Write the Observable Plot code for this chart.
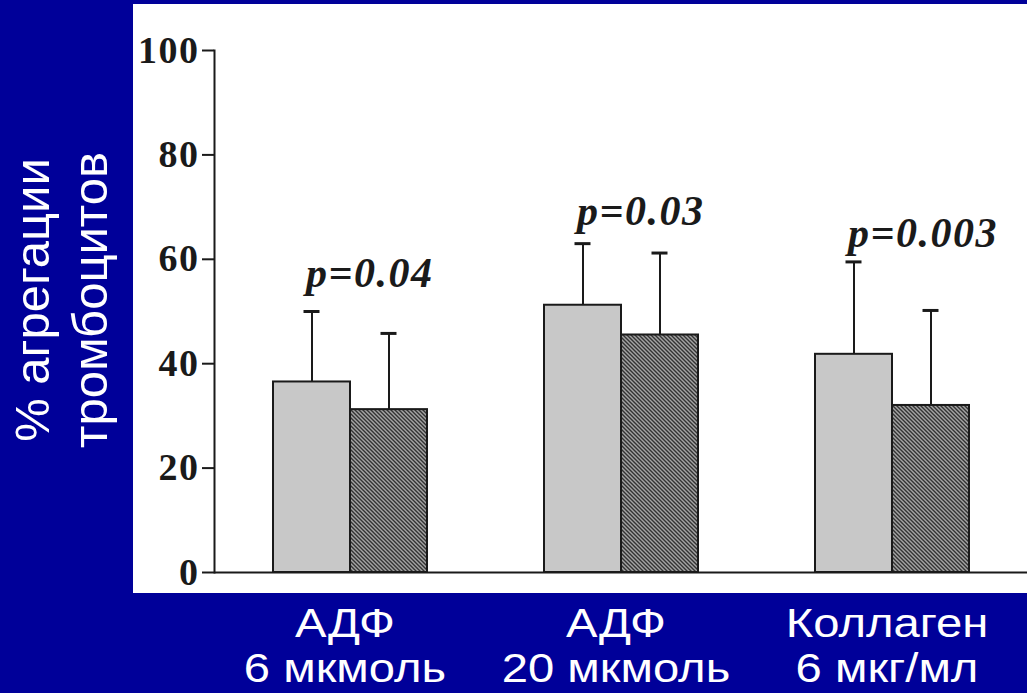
<!DOCTYPE html>
<html><head><meta charset="utf-8">
<script src="https://cdn.jsdelivr.net/npm/d3@7"></script>
<script src="https://cdn.jsdelivr.net/npm/@observablehq/plot@0.6"></script>
<style>
html,body{margin:0;padding:0;background:#000099;width:1027px;height:693px;overflow:hidden;}
#panel{position:absolute;left:133px;top:4px;width:894px;height:589px;background:#fff;}
.xl{position:absolute;top:601px;width:300px;margin-left:-150px;text-align:center;color:#fff;font-family:"Liberation Sans",Arial,sans-serif;font-size:40px;line-height:45px;transform:scaleX(1.18);}
#ytitle{position:absolute;left:-167px;top:240px;width:460px;height:120px;transform:rotate(-90deg);text-align:center;color:#fff;font-family:"Liberation Sans",Arial,sans-serif;font-size:49px;line-height:58px;}
</style></head><body>
<svg width="0" height="0" style="position:absolute"><defs>
<pattern id="hatch" patternUnits="userSpaceOnUse" width="4" height="4">
<rect width="4" height="4" fill="#a4a4a4"/>
<path d="M0,0 L4,4 M-1,3 L1,5 M3,-1 L5,1" stroke="#333" stroke-width="1.4"/>
</pattern></defs></svg>
<div id="panel"></div>
<div id="xlabels"></div>
<div id="ytitle">% агрегации<br>тромбоцитов</div>
<script>
const groupTop = ["АДФ", "АДФ", "Коллаген"];
const groupBottom = ["6 мкмоль", "20 мкмоль", "6 мкг/мл"];
const seriesKeys = ["s1", "s2"];
const mean1 = [36.5, 51.2, 41.8];
const errTop1 = [50.0, 63.0, 59.5];
const mean2 = [31.2, 45.5, 32.0];
const errTop2 = [45.8, 61.2, 50.2];
const pLabels = ["p=0.04", "p=0.03", "p=0.003"];
const pY = [54.6, 66.5, 62.3];
const yTicks = [0, 20, 40, 60, 80, 100];

const groupKeys = groupTop.map((t, i) => t + " " + groupBottom[i]);
const rows = [];
groupKeys.forEach((g, i) => {
  rows.push({group: g, series: seriesKeys[0], mean: mean1[i], top: errTop1[i]});
  rows.push({group: g, series: seriesKeys[1], mean: mean2[i], top: errTop2[i]});
});
const pRows = groupKeys.map((g, i) => ({group: g, series: seriesKeys[0], label: pLabels[i], y: pY[i]}));

const ink = "#1a1a1a";
const chart = Plot.plot({
  width: 894, height: 589,
  marginLeft: 81, marginRight: 0, marginTop: 46, marginBottom: 21,
  style: {background: "#fff", overflow: "visible", letterSpacing: "1.5px"},
  fx: {domain: groupKeys, padding: 0, axis: null},
  x: {domain: seriesKeys, paddingInner: 0, paddingOuter: 0.74, axis: null},
  y: {domain: [0, 100], axis: null},
  marks: [
    Plot.ruleX(rows, {fx: "group", x: "series", y1: "mean", y2: "top", stroke: ink, strokeWidth: 2}),
    Plot.tickY(rows, {fx: "group", x: "series", y: "top", stroke: ink, strokeWidth: 3, insetLeft: 30.5, insetRight: 30.5}),
    Plot.barY(rows.filter(d => d.series === seriesKeys[0]), {fx: "group", x: "series", y: "mean", fill: "#c8c8c8", stroke: ink, strokeWidth: 2}),
    Plot.barY(rows.filter(d => d.series === seriesKeys[1]), {fx: "group", x: "series", y: "mean", fill: "url(#hatch)", stroke: ink, strokeWidth: 2}),
    Plot.ruleY([0], {stroke: ink, strokeWidth: 2}),
    Plot.frame({anchor: "left", facetAnchor: "left", stroke: ink, strokeWidth: 2}),
    Plot.axisY({ticks: yTicks, tickSize: 12, tickPadding: 3, tickFormat: d => String(d), fontSize: 38, fontWeight: "bold", fontFamily: "'Liberation Serif','Times New Roman',serif", color: ink, strokeWidth: 2, label: null}),
    Plot.text(pRows, {fx: "group", x: "series", y: "y", text: "label", textAnchor: "start", lineAnchor: "bottom", dx: -6, fontSize: 42, fontWeight: "bold", fontStyle: "italic", fontFamily: "'Liberation Serif','Times New Roman',serif", fill: ink})
  ]
});
document.getElementById("panel").appendChild(chart);

const fx = chart.scale("fx");
const xl = document.getElementById("xlabels");
groupKeys.forEach((g, i) => {
  const cx = 133 + fx.apply(g) + fx.bandwidth / 2 - 5;
  const d = document.createElement("div");
  d.className = "xl";
  d.style.left = cx + "px";
  d.innerHTML = groupTop[i] + "<br>" + groupBottom[i];
  xl.appendChild(d);
});
</script>
</body></html>
